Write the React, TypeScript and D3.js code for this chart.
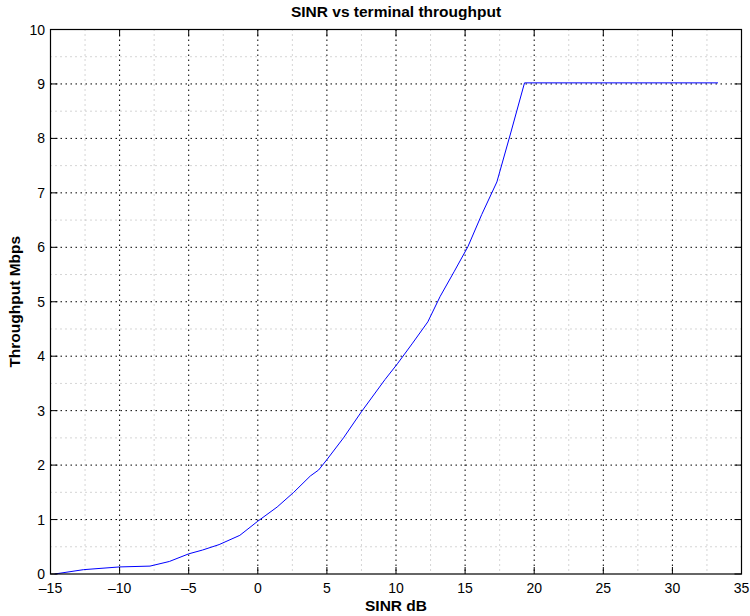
import React from "react";
import * as d3 from "d3";

const sinrDb = [-14.7, -12.6, -10, -7.8, -6.4, -5, -4, -2.8, -1.3, 0, 1.4, 2.6, 3.8, 4.4, 5, 6.2, 7.5, 9.2, 10.1, 11.2, 12.3, 13.2, 14.2, 15.2, 16.2, 17.3, 18.3, 19.3, 33.3];
const throughput = [0, 0.08, 0.13, 0.145, 0.23, 0.37, 0.44, 0.54, 0.71, 0.97, 1.23, 1.5, 1.8, 1.91, 2.1, 2.5, 2.98, 3.57, 3.86, 4.24, 4.63, 5.1, 5.55, 6.01, 6.6, 7.2, 8.1, 9.02, 9.02];
const xTicks = [-15, -10, -5, 0, 5, 10, 15, 20, 25, 30, 35];
const yTicks = [0, 1, 2, 3, 4, 5, 6, 7, 8, 9, 10];
const xMinor = [-12.5, -7.5, -2.5, 2.5, 7.5, 12.5, 17.5, 22.5, 27.5, 32.5];
const yMinor = [0.5, 1.5, 2.5, 3.5, 4.5, 5.5, 6.5, 7.5, 8.5, 9.5];

const W = 750, H = 616;
const L = 50.5, R = 741.5, T = 29.5, B = 574;
const font = "'Liberation Sans', Arial, Helvetica, sans-serif";

export default function App() {
  const x = d3.scaleLinear().domain([-15, 35]).range([L, R]);
  const y = d3.scaleLinear().domain([0, 10]).range([B, T]);
  const pts = sinrDb.map((s, i) => [s, throughput[i]] as [number, number]);
  const line = d3.line<[number, number]>().x(d => x(d[0])).y(d => y(d[1]))(pts) || "";
  const tickLen = 7;
  return (
    <svg width={W} height={H} style={{ position: "absolute", left: 0, top: 0, background: "#fff" }}>
      <rect x={0} y={0} width={W} height={H} fill="#fff" />
      {/* minor grid */}
      {xMinor.map(v => (
        <line key={"xm" + v} x1={x(v)} x2={x(v)} y1={T} y2={B} stroke="#aaa" strokeWidth={1} strokeDasharray="1,4" />
      ))}
      {yMinor.map(v => (
        <line key={"ym" + v} x1={L} x2={R} y1={y(v)} y2={y(v)} stroke="#aaa" strokeWidth={1} strokeDasharray="1,4" />
      ))}
      {/* major grid */}
      {xTicks.slice(1, -1).map(v => (
        <line key={"xg" + v} x1={x(v)} x2={x(v)} y1={T} y2={B} stroke="#000" strokeWidth={1} strokeDasharray="1.5,3.5" />
      ))}
      {yTicks.slice(1, -1).map(v => (
        <line key={"yg" + v} x1={L} x2={R} y1={y(v)} y2={y(v)} stroke="#000" strokeWidth={1} strokeDasharray="1.5,3.5" />
      ))}
      {/* data line */}
      <path d={line} fill="none" stroke="#0000ff" strokeWidth={1} />
      {/* box */}
      <rect x={L} y={T} width={R - L} height={B - T} fill="none" stroke="#000" strokeWidth={1.2} />
      {/* ticks */}
      {xTicks.map(v => (
        <g key={"xt" + v}>
          <line x1={x(v)} x2={x(v)} y1={B} y2={B - tickLen} stroke="#000" />
          <line x1={x(v)} x2={x(v)} y1={T} y2={T + tickLen} stroke="#000" />
          <text x={x(v)} y={B + 19} textAnchor="middle" fontFamily={font} fontSize={14} fill="#000">
            {v < 0 ? "\u2013" + Math.abs(v) : String(v)}
          </text>
        </g>
      ))}
      {yTicks.map(v => (
        <g key={"yt" + v}>
          <line x1={L} x2={L + tickLen} y1={y(v)} y2={y(v)} stroke="#000" />
          <line x1={R} x2={R - tickLen} y1={y(v)} y2={y(v)} stroke="#000" />
          <text x={L - 5.5} y={y(v) + 5} textAnchor="end" fontFamily={font} fontSize={14} fill="#000">
            {v}
          </text>
        </g>
      ))}
      {/* labels */}
      <text x={(L + R) / 2} y={17} textAnchor="middle" fontFamily={font} fontSize={15.5} fontWeight="bold" fill="#000">
        SINR vs terminal throughput
      </text>
      <text x={(L + R) / 2} y={611} textAnchor="middle" fontFamily={font} fontSize={15.5} fontWeight="bold" fill="#000">
        SINR dB
      </text>
      <text transform={`translate(20,${(T + B) / 2}) rotate(-90)`} textAnchor="middle" fontFamily={font} fontSize={15.5} fontWeight="bold" fill="#000">
        Throughput Mbps
      </text>
    </svg>
  );
}
